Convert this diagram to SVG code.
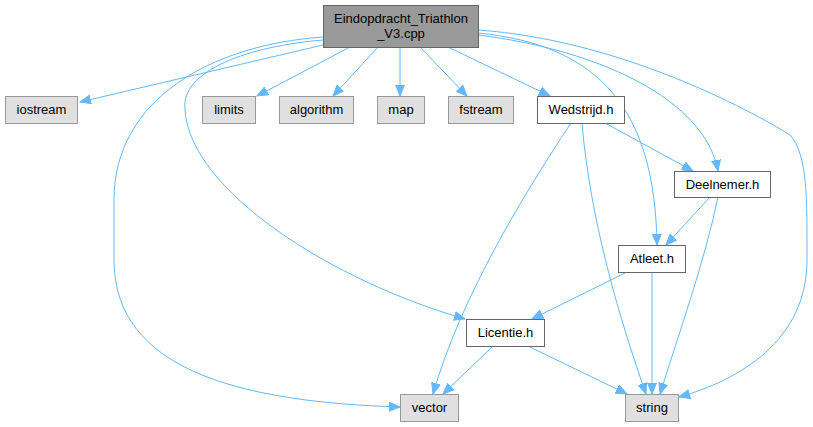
<svg xmlns="http://www.w3.org/2000/svg" width="813" height="427" viewBox="0 0 813 427">
<style>
.n rect{stroke-width:1}
.sys rect{fill:#e0e0e0;stroke:#999999}
.hdr rect{fill:#ffffff;stroke:#666666}
.main rect{fill:#999999;stroke:#666666}
text{font-family:"Liberation Sans",Arial,sans-serif;font-size:13px;fill:#000;text-anchor:middle}
.e path{fill:none;stroke:#63b8ff;stroke-width:1;marker-end:url(#ah)}
</style>
<defs>
<marker id="ah" markerUnits="userSpaceOnUse" markerWidth="12" markerHeight="10" refX="11" refY="5" orient="auto">
<path d="M0,0.5 L11,5 L0,9.5 Z" fill="#63b8ff" stroke="#63b8ff" stroke-width="1"/>
</marker>
</defs>
<g id="edges" class="e">
<path d="M323,45 L80,102"/>
<path d="M350,47 L257,96"/>
<path d="M378,47 L333,96"/>
<path d="M400,47 L400,96"/>
<path d="M420,47 L467,96"/>
<path d="M448,47 L550,96"/>
<path d="M323,37 C210,45 114,100 114,200 L114,260 C114,370 240,402 400,407"/>
<path d="M323,40 C250,46 180,70 185,110 C190,190 330,280 465,319"/>
<path d="M478,30 C620,40 750,110 790,135 C808,155 807,200 807,260 C807,340 740,380 679,397"/>
<path d="M478,35 C600,50 705,100 718,171"/>
<path d="M478,33 C600,45 655,110 657,245"/>
<path d="M605,123 L693,171"/>
<path d="M571,123 C520,200 460,300 433,394"/>
<path d="M582,123 C590,220 620,320 646,394"/>
<path d="M710,197 L666,245"/>
<path d="M718,197 C705,260 680,330 660,394"/>
<path d="M627,272 L532,319"/>
<path d="M652,272 L652,394"/>
<path d="M492,347 L443,394"/>
<path d="M530,347 L627,394"/>
</g>
<g id="main" class="n main"><rect x="323.5" y="5.5" width="155" height="42"/><text x="401" y="23">Eindopdracht_Triathlon</text><text x="401" y="38">_V3.cpp</text></g>
<g id="iostream" class="n sys"><rect x="5.5" y="96.5" width="72" height="27"/><text x="41.5" y="114">iostream</text></g>
<g id="limits" class="n sys"><rect x="202.5" y="96.5" width="53" height="27"/><text x="229" y="114">limits</text></g>
<g id="algorithm" class="n sys"><rect x="279.5" y="96.5" width="74" height="27"/><text x="316.5" y="114">algorithm</text></g>
<g id="map" class="n sys"><rect x="377.5" y="96.5" width="47" height="27"/><text x="401" y="114">map</text></g>
<g id="fstream" class="n sys"><rect x="448.5" y="96.5" width="65" height="27"/><text x="481" y="114">fstream</text></g>
<g id="wedstrijd" class="n hdr"><rect x="537.5" y="96.5" width="87" height="27"/><text x="581" y="114">Wedstrijd.h</text></g>
<g id="deelnemer" class="n hdr"><rect x="674.5" y="171.5" width="96" height="26"/><text x="722.5" y="189">Deelnemer.h</text></g>
<g id="atleet" class="n hdr"><rect x="618.5" y="245.5" width="67" height="27"/><text x="652" y="263">Atleet.h</text></g>
<g id="licentie" class="n hdr"><rect x="466.5" y="319.5" width="78" height="27"/><text x="505.5" y="337">Licentie.h</text></g>
<g id="vector" class="n sys"><rect x="400.5" y="394.5" width="58" height="27"/><text x="429.5" y="412">vector</text></g>
<g id="string" class="n sys"><rect x="625.5" y="394.5" width="53" height="27"/><text x="652" y="412">string</text></g>
</svg>
